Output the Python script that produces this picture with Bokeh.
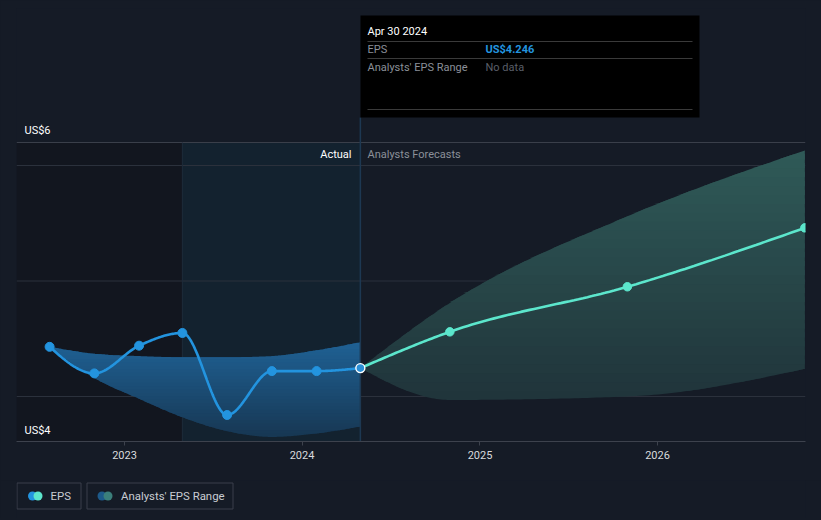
import numpy as np
import pandas as pd
from bokeh.plotting import figure
from bokeh.layouts import column
from bokeh.models import Range1d, FixedTicker, BoxAnnotation
from bokeh.core.properties import value
from bokeh.embed import file_html
from bokeh.resources import INLINE

# ---------------- data ----------------
actual_dates = ["2022-07-31", "2022-10-31", "2023-01-31", "2023-04-30",
                "2023-07-31", "2023-10-31", "2024-01-31", "2024-04-30"]
actual_eps = [4.43, 4.20, 4.44, 4.55, 3.84, 4.22, 4.22, 4.246]
past_range_high = [4.43, 4.37, 4.35, 4.34, 4.34, 4.35, 4.40, 4.47]
past_range_low = [4.43, 4.16, 3.98, 3.82, 3.70, 3.65, 3.68, 3.74]

forecast_dates = ["2024-04-30", "2024-10-31", "2025-10-31", "2026-10-31"]
forecast_eps = [4.246, 4.56, 4.95, 5.46]
forecast_high = [4.246, 4.81, 5.56, 6.13]
forecast_low = [4.246, 3.97, 4.00, 4.24]

axis_years = [2023, 2024, 2025, 2026]
grid_values = [4, 5, 6]
y_labels = ["US$6", "US$4"]
legend_labels = ["EPS", "Analysts' EPS Range"]
tooltip_date = "Apr 30 2024"
tooltip_eps = "US$4.246"
actual_start = "2023-04-30"
actual_end = "2024-04-30"

# ---------------- helpers ----------------
EPOCH = pd.Timestamp("1970-01-01")
def day(s):
    return (pd.Timestamp(s) - EPOCH).days

PX_PER_DAY = 533 / 1096.0
def X(px):
    return day("2023-01-01") + (px - 124) / PX_PER_DAY
def Y(py):
    return 4 + (396 - py) / 115.5

def monotone(xs, ys, n=40):
    xs = np.asarray(xs, float); ys = np.asarray(ys, float)
    h = np.diff(xs); s = np.diff(ys) / h
    m = np.zeros(len(xs))
    sg = lambda v: -1.0 if v < 0 else 1.0
    for i in range(1, len(xs) - 1):
        p = (s[i - 1] * h[i] + s[i] * h[i - 1]) / (h[i - 1] + h[i])
        m[i] = (sg(s[i - 1]) + sg(s[i])) * min(abs(s[i - 1]), abs(s[i]), 0.5 * abs(p))
    if len(xs) > 2:
        m[0] = (3 * s[0] - m[1]) / 2
        m[-1] = (3 * s[-1] - m[-2]) / 2
    else:
        m[0] = m[-1] = s[0]
    ox, oy = [], []
    for i in range(len(xs) - 1):
        t = np.linspace(0, 1, n, endpoint=False)
        h00 = 2 * t**3 - 3 * t**2 + 1
        h10 = t**3 - 2 * t**2 + t
        h01 = -2 * t**3 + 3 * t**2
        h11 = t**3 - t**2
        ox.extend(xs[i] + t * h[i])
        oy.extend(h00 * ys[i] + h10 * h[i] * m[i] + h01 * ys[i + 1] + h11 * h[i] * m[i + 1])
    ox.append(xs[-1]); oy.append(ys[-1])
    return np.array(ox), np.array(oy)

def mix(c1, c2, f):
    a = [int(c1[i:i + 2], 16) for i in (1, 3, 5)]
    b = [int(c2[i:i + 2], 16) for i in (1, 3, 5)]
    return "#%02x%02x%02x" % tuple(int(round(a[k] + (b[k] - a[k]) * f)) for k in range(3))

def grad_band(p, xs, lo, hi, c_top, c_bot, n=28):
    v_bot, v_top = float(np.min(lo)), float(np.max(hi))
    edges = np.linspace(v_bot, v_top, n + 1)
    dy = edges[1] - edges[0]
    for k in range(n):
        a, b = edges[k], edges[k + 1]
        col = mix(c_bot, c_top, (k + 0.5) / n)
        y1 = np.clip(lo, a, b + dy * 0.6)
        y2 = np.clip(hi, a, b + dy * 0.6)
        p.varea(x=xs, y1=y1, y2=y2, fill_color=col, fill_alpha=1.0)

FONT = value("Roboto")
BG = "#151b26"

# ---------------- main figure ----------------
p = figure(width=821, height=480, output_backend="svg", toolbar_location=None,
           x_range=Range1d(X(16), X(805)), y_range=Range1d(Y(441), Y(8)),
           y_axis_location=None, min_border_left=16, min_border_right=16,
           min_border_top=8, min_border_bottom=39)
p.background_fill_color = BG
p.border_fill_color = BG
p.outline_line_color = None
p.xgrid.visible = False
p.ygrid.visible = False

# background regions
p.add_layout(BoxAnnotation(left=X(16), right=day(actual_start), bottom=Y(441), top=Y(142),
                           fill_color="#12161f", fill_alpha=1.0, line_color=None, level="underlay"))
p.add_layout(BoxAnnotation(left=day(actual_start), right=day(actual_end), bottom=Y(441), top=Y(142),
                           fill_color="#13222f", fill_alpha=1.0, line_color=None, level="underlay"))

# gridlines
for g in grid_values:
    p.line(x=[X(16), X(805)], y=[g, g], line_color="#2b313c", line_width=1)
p.line(x=[X(16), X(805)], y=[Y(142), Y(142)], line_color="#3a3f4a", line_width=1)

# region border
p.line(x=[day(actual_start)] * 2, y=[Y(441), Y(142)], line_color="#1d2b3b", line_width=1)

# bands
ax_d = [day(d) for d in actual_dates]
fx_d = [day(d) for d in forecast_dates]
bx, bhi = monotone(ax_d, past_range_high)
_, blo = monotone(ax_d, past_range_low)
grad_band(p, bx, blo, bhi, "#1f6194", "#173753")

fbx, fhi = monotone(fx_d, forecast_high)
_, flo = monotone(fx_d, forecast_low)
grad_band(p, fbx, flo, fhi, "#2f5a58", "#20343a")

# crosshair
p.line(x=[day(actual_end)] * 2, y=[Y(441), Y(117)], line_color="#1d3852", line_width=1.5)

# lines
lx, ly = monotone(ax_d, actual_eps)
p.line(lx, ly, line_color="#2394df", line_width=2.6)
fx, fy = monotone(fx_d, forecast_eps)
p.line(fx, fy, line_color="#5ce6cc", line_width=2.6)

p.scatter(ax_d[:-1], actual_eps[:-1], size=9, fill_color="#2394df", line_color="#2394df")
p.scatter(fx_d[1:], forecast_eps[1:], size=8.5, fill_color="#5ce6cc", line_color="#5ce6cc")
p.scatter([ax_d[-1]], [actual_eps[-1]], size=9, fill_color="#2b8fd6", line_color="#ffffff", line_width=1.4)

# labels
p.text(x=[X(24)], y=[Y(130)], text=[y_labels[0]], text_font=FONT, text_font_size="11px",
       text_color="#ffffff", text_baseline="middle")
p.text(x=[X(24)], y=[Y(430)], text=[y_labels[1]], text_font=FONT, text_font_size="11px",
       text_color="#ffffff", text_baseline="middle")
p.text(x=[X(351)], y=[Y(154)], text=["Actual"], text_font=FONT, text_font_size="11px",
       text_color="#ffffff", text_baseline="middle", text_align="right")
p.text(x=[X(367)], y=[Y(154)], text=["Analysts Forecasts"], text_font=FONT, text_font_size="11px",
       text_color="#8b9099", text_baseline="middle")

# tooltip
p.quad(left=[X(360)], right=[X(699)], bottom=[Y(117)], top=[Y(15)],
       fill_color="#000000", line_color=None)
for ty in (41, 58, 109):
    p.line(x=[X(367), X(692)], y=[Y(ty)] * 2, line_color="#3a3a3a", line_width=1)
p.text(x=[X(367)], y=[Y(31)], text=[tooltip_date], text_font=FONT, text_font_size="11px",
       text_color="#ffffff", text_baseline="middle")
p.text(x=[X(367), X(367)], y=[Y(49), Y(67)], text=["EPS", "Analysts' EPS Range"], text_font=FONT,
       text_font_size="11px", text_color="#8b9099", text_baseline="middle")
p.text(x=[X(485)], y=[Y(49)], text=[tooltip_eps], text_font=FONT, text_font_size="11px",
       text_font_style="bold", text_color="#2394df", text_baseline="middle")
p.text(x=[X(485)], y=[Y(67)], text=["No data"], text_font=FONT, text_font_size="11px",
       text_color="#5a5f68", text_baseline="middle")

# x axis
ticks = [day(f"{yr}-01-01") for yr in axis_years]
p.xaxis.ticker = FixedTicker(ticks=ticks)
p.xaxis.major_label_overrides = {t: str(yr) for t, yr in zip(ticks, axis_years)}
p.xaxis.axis_line_color = "#3d424d"
p.xaxis.major_tick_line_color = "#3d424d"
p.xaxis.major_tick_out = 4
p.xaxis.major_tick_in = 0
p.xaxis.minor_tick_line_color = None
p.xaxis.major_label_text_color = "#d8dadd"
p.xaxis.major_label_text_font = "Roboto"
p.xaxis.major_label_text_font_size = "11px"
p.xaxis.major_label_standoff = 5

# ---------------- legend figure ----------------
lg = figure(width=821, height=38, output_backend="svg", toolbar_location=None,
            x_range=Range1d(16, 805), y_range=Range1d(518, 480),
            x_axis_location=None, y_axis_location=None, min_border=0,
            min_border_left=16, min_border_right=16)
lg.background_fill_color = BG
lg.border_fill_color = BG
lg.outline_line_color = None
lg.grid.visible = False
lg.quad(left=[16.5, 86.5], right=[80.5, 232.5], top=[482.5, 482.5], bottom=[508.5, 508.5],
        fill_color=BG, line_color="#3a3f4a", line_width=1)
lg.scatter([32, 101.5], [495.5, 495.5], size=9, fill_color=["#2394df", "#1d5a8a"], line_color=None)
lg.scatter([37.5, 107.5], [495.5, 495.5], size=9, fill_color=["#5ce6cc", "#3b7f7b"], line_color=None)
lg.text(x=[50, 120.5], y=[495.5, 495.5], text=legend_labels, text_font=FONT, text_font_size="11.4px",
        text_color="#c8ccd2", text_baseline="middle")

layout = column(p, lg, spacing=0)
html = file_html(layout, INLINE)
html = html.replace("<head>", "<head><style>html,body{background:#151b26;}</style>", 1)
open("out.html", "w").write(html)
